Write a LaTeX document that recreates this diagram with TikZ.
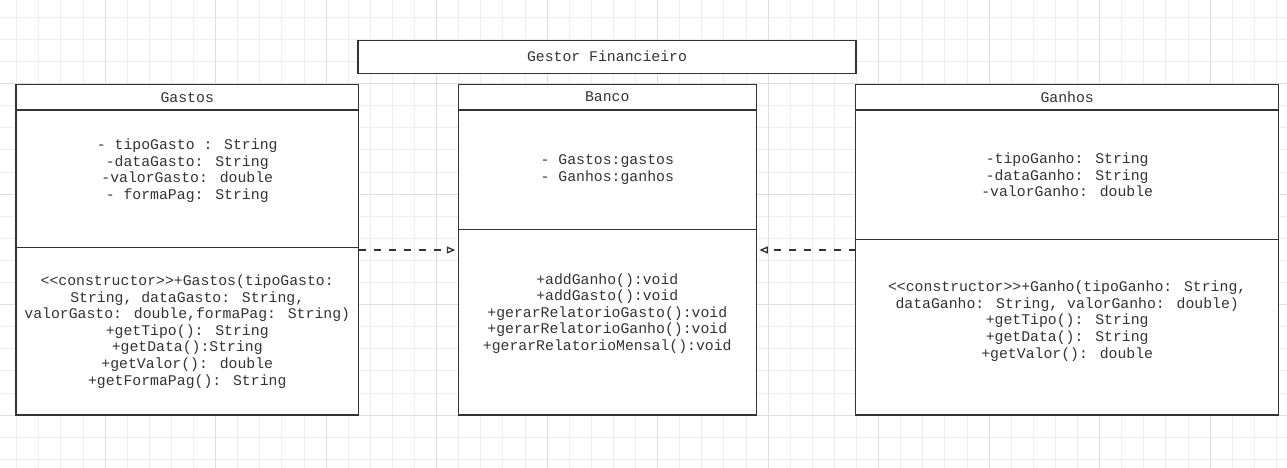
\documentclass[tikz,border=0pt]{standalone}
\usepackage{fontspec}
\newfontfamily\umlfont{Liberation Mono}
\usetikzlibrary{arrows.meta}
\definecolor{ink}{HTML}{333333}
\definecolor{gridminor}{HTML}{EDEDED}
\definecolor{gridmajor}{HTML}{DDDDDD}
\tikzset{
  comp/.style={draw=ink, line width=1.2pt, fill=white, rectangle, inner sep=0pt, outer sep=0pt, anchor=north west},
  umltext/.style={text=ink, font=\umlfont\fontsize{14.8}{16.6}\selectfont, align=center, inner sep=0pt},
  dep/.style={draw=ink, line width=1.3pt, dash pattern=on 7pt off 8pt, -{Triangle[fill=white, length=8.5pt, width=7pt, line width=1.3pt]}, shorten >=3pt},
  gridminorline/.style={draw=gridminor, line width=1pt},
  gridmajorline/.style={draw=gridmajor, line width=1pt}
}
\begin{document}
\begin{tikzpicture}[x=1pt, y=-1pt]
\useasboundingbox (0,0) rectangle (1287,468);
\fill[white] (0,0) rectangle (1287,468);
% grid
\foreach \k in {0,...,57} \draw[gridminorline] ({16.7+22.1*\k},0) -- ({16.7+22.1*\k},468);
\foreach \k in {0,...,20} \draw[gridminorline] (0,{17.3+22.1*\k}) -- (1287,{17.3+22.1*\k});
\foreach \k in {4,9,...,54} \draw[gridmajorline] ({16.7+22.1*\k},0) -- ({16.7+22.1*\k},468);
\foreach \k in {3,8,13,18} \draw[gridmajorline] (0,{17.3+22.1*\k}) -- (1287,{17.3+22.1*\k});

% Gestor Financeiro
\node[comp, minimum width=498pt, minimum height=33pt] (gestor) at (358,40.3) {};
\node[umltext] (gestorT) at (607,56.3) {Gestor Financieiro};

% Gastos
\node[comp, minimum width=342.5pt, minimum height=25.7pt] (gastosHead) at (16,84.3) {};
\node[comp, minimum width=342.5pt, minimum height=137.7pt] (gastosAttr) at (16,110) {};
\node[comp, minimum width=342.5pt, minimum height=167.3pt] (gastosOps) at (16,247.7) {};
\node[umltext] (gastosName) at (gastosHead.center) {Gastos};
\node[umltext] (gastosAttrT) at (187.25,170.5) {- tipoGasto : String\\-dataGasto: String\\-valorGasto: double\\- formaPag: String};
\node[umltext] (gastosOpsT) at (187.25,331.5) {<<constructor>>+Gastos(tipoGasto:\\String, dataGasto: String,\\valorGasto: double,formaPag: String)\\+getTipo(): String\\+getData():String\\+getValor(): double\\+getFormaPag(): String};

% Banco
\node[comp, minimum width=298pt, minimum height=25.7pt] (bancoHead) at (458.3,84.3) {};
\node[comp, minimum width=298pt, minimum height=119.7pt] (bancoAttr) at (458.3,110) {};
\node[comp, minimum width=298pt, minimum height=185.3pt] (bancoOps) at (458.3,229.7) {};
\node[umltext] (bancoName) at (bancoHead.center) {Banco};
\node[umltext] (bancoAttrT) at (607.3,169.5) {- Gastos:gastos\\- Ganhos:ganhos};
\node[umltext] (bancoOpsT) at (607.3,313.5) {+addGanho():void\\+addGasto():void\\+gerarRelatorioGasto():void\\+gerarRelatorioGanho():void\\+gerarRelatorioMensal():void};

% Ganhos
\node[comp, minimum width=423pt, minimum height=25.7pt] (ganhosHead) at (855.7,84.3) {};
\node[comp, minimum width=423pt, minimum height=129.7pt] (ganhosAttr) at (855.7,110) {};
\node[comp, minimum width=423pt, minimum height=175.3pt] (ganhosOps) at (855.7,239.7) {};
\node[umltext] (ganhosName) at (ganhosHead.center) {Ganhos};
\node[umltext] (ganhosAttrT) at (1067.2,175) {-tipoGanho: String\\-dataGanho: String\\-valorGanho: double};
\node[umltext] (ganhosOpsT) at (1067.2,321) {<<constructor>>+Ganho(tipoGanho: String,\\dataGanho: String, valorGanho: double)\\+getTipo(): String\\+getData(): String\\+getValor(): double};

% dependencies
\coordinate (arrowy) at (0,250);
\draw[dep] (gastosOps.north east |- arrowy) -- (bancoOps.west |- arrowy);
\draw[dep] (ganhosOps.north west |- arrowy) -- (bancoOps.east |- arrowy);
\end{tikzpicture}
\end{document}
